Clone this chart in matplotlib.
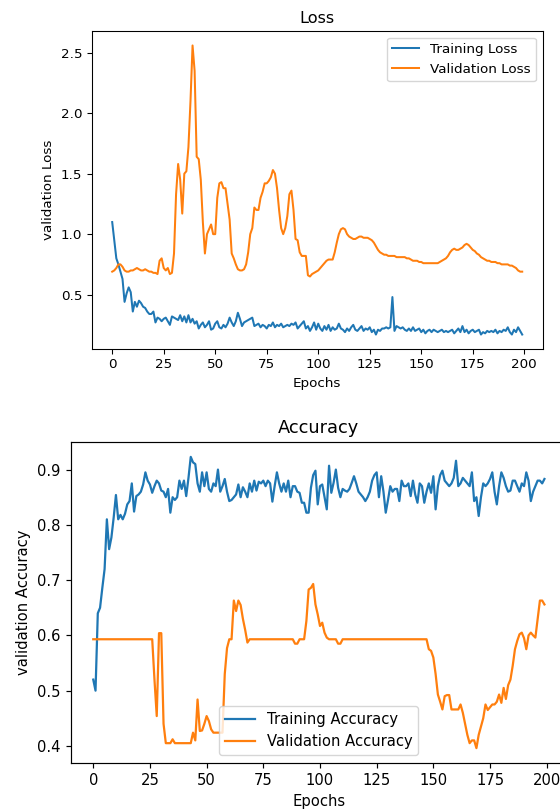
import matplotlib.pyplot as plt

epochs = list(range(200))

train_loss = [
    1.10, 0.95, 0.80, 0.75, 0.69, 0.63, 0.44, 0.51, 0.56, 0.52,
    0.36, 0.44, 0.40, 0.45, 0.43, 0.40, 0.39, 0.36, 0.34, 0.34,
    0.36, 0.27, 0.31, 0.30, 0.28, 0.30, 0.31, 0.28, 0.25, 0.32,
    0.31, 0.30, 0.29, 0.33, 0.28, 0.32, 0.27, 0.33, 0.27, 0.30,
    0.26, 0.28, 0.22, 0.25, 0.27, 0.23, 0.25, 0.28, 0.21, 0.22,
    0.26, 0.28, 0.23, 0.22, 0.25, 0.23, 0.26, 0.31, 0.27, 0.24,
    0.28, 0.35, 0.30, 0.24, 0.27, 0.28, 0.29, 0.30, 0.31, 0.24,
    0.25, 0.26, 0.23, 0.25, 0.24, 0.22, 0.25, 0.24, 0.27, 0.23,
    0.25, 0.24, 0.26, 0.23, 0.24, 0.25, 0.24, 0.26, 0.25, 0.27,
    0.22, 0.24, 0.26, 0.28, 0.22, 0.24, 0.20, 0.23, 0.27, 0.21,
    0.26, 0.22, 0.20, 0.24, 0.21, 0.25, 0.20, 0.23, 0.21, 0.22,
    0.26, 0.22, 0.21, 0.19, 0.22, 0.20, 0.23, 0.25, 0.21, 0.20,
    0.22, 0.24, 0.20, 0.22, 0.21, 0.23, 0.19, 0.21, 0.17, 0.21,
    0.20, 0.22, 0.22, 0.23, 0.22, 0.23, 0.48, 0.20, 0.24, 0.23,
    0.22, 0.23, 0.21, 0.20, 0.22, 0.20, 0.23, 0.20, 0.21, 0.22,
    0.19, 0.21, 0.18, 0.20, 0.21, 0.19, 0.21, 0.20, 0.19, 0.20,
    0.21, 0.19, 0.20, 0.19, 0.20, 0.21, 0.18, 0.20, 0.22, 0.19,
    0.24, 0.19, 0.21, 0.18, 0.20, 0.21, 0.19, 0.20, 0.21, 0.17,
    0.19, 0.18, 0.20, 0.19, 0.20, 0.19, 0.21, 0.18, 0.20, 0.19,
    0.21, 0.20, 0.23, 0.19, 0.17, 0.21, 0.19, 0.23, 0.20, 0.17,
]

val_loss = [
    0.69, 0.70, 0.72, 0.75, 0.75, 0.73, 0.70, 0.69, 0.69, 0.70,
    0.70, 0.71, 0.72, 0.71, 0.70, 0.70, 0.71, 0.70, 0.69, 0.69,
    0.68, 0.68, 0.67, 0.78, 0.80, 0.72, 0.70, 0.72, 0.67, 0.68,
    0.84, 1.33, 1.58, 1.45, 1.17, 1.50, 1.52, 1.72, 2.10, 2.56,
    2.35, 1.64, 1.62, 1.45, 1.10, 0.84, 1.00, 1.04, 1.08, 1.00,
    1.00, 1.30, 1.42, 1.43, 1.38, 1.38, 1.25, 1.12, 0.84, 0.80,
    0.75, 0.71, 0.70, 0.70, 0.71, 0.75, 0.85, 1.00, 1.05, 1.22,
    1.20, 1.20, 1.30, 1.35, 1.42, 1.42, 1.44, 1.47, 1.53, 1.50,
    1.38, 1.20, 1.05, 1.00, 1.05, 1.15, 1.33, 1.36, 1.20, 0.96,
    0.95, 0.85, 0.82, 0.82, 0.82, 0.66, 0.65, 0.67, 0.68, 0.69,
    0.70, 0.72, 0.74, 0.76, 0.78, 0.79, 0.79, 0.79, 0.85, 0.93,
    1.00, 1.04, 1.05, 1.04, 1.00, 0.98, 0.97, 0.96, 0.96, 0.97,
    0.98, 0.98, 0.97, 0.97, 0.97, 0.96, 0.95, 0.93, 0.90, 0.87,
    0.85, 0.84, 0.83, 0.83, 0.82, 0.82, 0.82, 0.82, 0.81, 0.81,
    0.81, 0.81, 0.81, 0.80, 0.80, 0.79, 0.78, 0.78, 0.78, 0.77,
    0.77, 0.76, 0.76, 0.76, 0.76, 0.76, 0.76, 0.76, 0.76, 0.77,
    0.78, 0.79, 0.80, 0.82, 0.85, 0.87, 0.88, 0.87, 0.87, 0.88,
    0.89, 0.91, 0.92, 0.91, 0.89, 0.87, 0.86, 0.84, 0.83, 0.81,
    0.80, 0.79, 0.78, 0.78, 0.77, 0.77, 0.77, 0.76, 0.76, 0.75,
    0.75, 0.75, 0.75, 0.74, 0.74, 0.73, 0.72, 0.70, 0.69, 0.69,
]

train_acc = [
    0.52, 0.50, 0.64, 0.65, 0.686, 0.72, 0.81, 0.756, 0.777, 0.813,
    0.854, 0.81, 0.818, 0.81, 0.82, 0.837, 0.843, 0.875, 0.824, 0.852,
    0.855, 0.86, 0.873, 0.895, 0.88, 0.873, 0.858, 0.87, 0.88, 0.875,
    0.862, 0.86, 0.85, 0.865, 0.822, 0.85, 0.845, 0.85, 0.88, 0.865,
    0.88, 0.852, 0.885, 0.923, 0.913, 0.91, 0.875, 0.86, 0.895, 0.87,
    0.895, 0.865, 0.86, 0.875, 0.87, 0.90, 0.86, 0.87, 0.883, 0.86,
    0.843, 0.845, 0.85, 0.855, 0.873, 0.85, 0.868, 0.86, 0.85, 0.875,
    0.86, 0.88, 0.862, 0.878, 0.875, 0.88, 0.87, 0.88, 0.875, 0.842,
    0.87, 0.895, 0.875, 0.86, 0.875, 0.86, 0.88, 0.85, 0.87, 0.87,
    0.86, 0.858, 0.84, 0.84, 0.822, 0.822, 0.867, 0.89, 0.898, 0.837,
    0.87, 0.873, 0.85, 0.828, 0.907, 0.858, 0.876, 0.90, 0.867, 0.85,
    0.865, 0.862, 0.86, 0.865, 0.876, 0.888, 0.875, 0.86, 0.855, 0.85,
    0.843, 0.85, 0.86, 0.88, 0.89, 0.895, 0.85, 0.888, 0.86, 0.822,
    0.845, 0.87, 0.86, 0.865, 0.865, 0.843, 0.88, 0.87, 0.87, 0.875,
    0.852, 0.88, 0.855, 0.84, 0.875, 0.87, 0.84, 0.86, 0.875, 0.858,
    0.888, 0.828, 0.87, 0.89, 0.898, 0.88, 0.875, 0.87, 0.875, 0.885,
    0.916, 0.87, 0.875, 0.885, 0.88, 0.875, 0.87, 0.895, 0.843, 0.85,
    0.816, 0.85, 0.875, 0.87, 0.875, 0.883, 0.895, 0.86, 0.837, 0.87,
    0.895, 0.885, 0.87, 0.86, 0.862, 0.88, 0.88, 0.87, 0.86, 0.875,
    0.87, 0.895, 0.88, 0.843, 0.86, 0.87, 0.88, 0.88, 0.875, 0.883,
]

val_acc = (
    [0.593] * 27
    + [0.52, 0.454, 0.604,
       0.604, 0.44, 0.405, 0.405, 0.405, 0.412, 0.405, 0.405, 0.405, 0.405,
       0.405, 0.405, 0.405, 0.405, 0.424, 0.41, 0.484, 0.427, 0.428, 0.44,
       0.454, 0.445, 0.43, 0.424, 0.424, 0.424, 0.424, 0.424, 0.53, 0.577,
       0.593, 0.593, 0.663, 0.644, 0.663, 0.655, 0.63, 0.61, 0.587]
    + [0.593] * 20
    + [0.585, 0.585, 0.593, 0.593, 0.593, 0.626, 0.683, 0.686, 0.693, 0.656, 0.638,
       0.617, 0.623, 0.605, 0.596, 0.593, 0.593, 0.593, 0.593, 0.585, 0.585]
    + [0.593] * 38
    + [0.575, 0.572,
       0.56, 0.53, 0.493, 0.48, 0.466, 0.49, 0.492, 0.492, 0.466, 0.466,
       0.466, 0.466, 0.475, 0.46, 0.44, 0.42, 0.405, 0.41, 0.41, 0.396,
       0.42, 0.435, 0.45, 0.475, 0.465, 0.47, 0.475, 0.475, 0.48, 0.493,
       0.478, 0.505, 0.485, 0.51, 0.52, 0.545, 0.575, 0.59, 0.602, 0.605,
       0.595, 0.575, 0.60, 0.605, 0.60, 0.596, 0.63, 0.663, 0.663, 0.656]
)

W, H = 560, 809
fig = plt.figure(figsize=(W / 100, H / 100), dpi=100)


def style(ax, s):
    for sp in ax.spines.values():
        sp.set_linewidth(0.8 * s)
    ax.tick_params(labelsize=10 * s, length=3.5 * s, width=0.8 * s, pad=3.5 * s)


# top panel: loss (scale ~0.97 relative to default)
s1 = 0.97
ax1 = fig.add_axes([91.7 / W, 1 - 349 / H, 451 / W, 318 / H])
ax1.plot(epochs, train_loss, color='#1f77b4', lw=1.5 * s1, label='Training Loss')
ax1.plot(epochs, val_loss, color='#ff7f0e', lw=1.5 * s1, label='Validation Loss')
ax1.set_title('Loss', fontsize=12 * s1, pad=6 * s1)
ax1.set_xlabel('Epochs', fontsize=10 * s1, labelpad=4 * s1)
ax1.set_ylabel('validation Loss', fontsize=10 * s1, labelpad=4 * s1)
ax1.set_xticks([0, 25, 50, 75, 100, 125, 150, 175, 200])
ax1.set_yticks([0.5, 1.0, 1.5, 2.0, 2.5])
ax1.legend(loc='upper right', fontsize=10 * s1)
style(ax1, s1)

# bottom panel: accuracy (bigger, cut off on the right)
s2 = 1.067
ax2 = fig.add_axes([70.7 / W, 1 - 762.7 / H, 496.3 / W, 320.4 / H])
ax2.plot(epochs, train_acc, color='#1f77b4', lw=1.5 * s2, label='Training Accuracy')
ax2.plot(epochs, val_acc, color='#ff7f0e', lw=1.5 * s2, label='Validation Accuracy')
ax2.set_title('Accuracy', fontsize=12 * s2, pad=6 * s2)
ax2.set_xlabel('Epochs', fontsize=10 * s2, labelpad=4 * s2)
ax2.set_ylabel('validation Accuracy', fontsize=10 * s2, labelpad=4 * s2)
ax2.set_xticks([0, 25, 50, 75, 100, 125, 150, 175, 200])
ax2.set_yticks([0.4, 0.5, 0.6, 0.7, 0.8, 0.9])
ax2.legend(loc='lower center', fontsize=10 * s2)
style(ax2, s2)

fig.savefig('out.png', dpi=100)
